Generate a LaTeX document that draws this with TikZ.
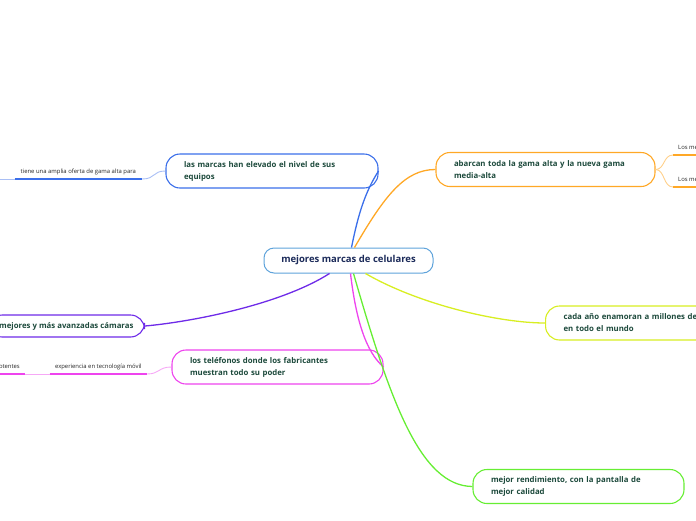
\documentclass[tikz,border=0pt]{standalone}
\usepackage{fontspec}
\setmainfont{Open Sans}
\usepackage{xcolor}
\usepackage{tikz}
\usetikzlibrary{calc}
\definecolor{hubBlue}{HTML}{5FA3DB}
\definecolor{hubText}{HTML}{1C2B5A}
\definecolor{topicText}{HTML}{1D4A3C}
\definecolor{royalBlue}{HTML}{3B6FEA}
\definecolor{paleBlue}{HTML}{A9BFF5}
\definecolor{mapOrange}{HTML}{FFA826}
\definecolor{paleOrange}{HTML}{FFD08A}
\definecolor{mapPurple}{HTML}{6E2BE8}
\definecolor{mapMagenta}{HTML}{EE44EE}
\definecolor{paleMagenta}{HTML}{F6A8F6}
\definecolor{mapLime}{HTML}{D8EE22}
\definecolor{mapGreen}{HTML}{66EE33}

\begin{document}
\begin{tikzpicture}[
            x=1pt, y=-1pt,
            hubbox/.style={
                draw=hubBlue,
                fill=white,
                line width=1pt,
                rounded corners=10pt,
                minimum width=169pt,
                minimum height=25pt,
                text=hubText,
                font=\fontsize{9.5}{11}\selectfont\bfseries
            },
            topicline/.style={
                draw,
                fill=white,
                line width=1.1pt,
                rounded corners=14pt,
                minimum height=34pt,
                inner xsep=18pt,
                inner ysep=0pt,
                align=left,
                text=topicText,
                font=\fontsize{7.8}{12}\selectfont\bfseries
            },
            topicbox/.style={
                topicline,
                text width=176pt
            },
            subtext/.style={
                inner xsep=5pt,
                inner ysep=3.5pt,
                text=black!85,
                font=\fontsize{5.9}{6.5}\selectfont
            },
            branch/.style={
                line width=1.3pt
            },
            twig/.style={
                line width=0.9pt
            },
            bar/.style={
                line width=2pt
            }
        ]

        \clip (0,0) rectangle (696,520);

        % --- Central topic ---
        \node[hubbox] (hub) at (348.5,260.5)
            {mejores marcas de celulares};

        % --- Main topics ---
        \node[topicbox, draw=royalBlue] (nivel) at (272,171)
            {las marcas han elevado el nivel de sus\\equipos};

        \node[topicbox, draw=mapOrange, text width=183pt]
            (gama) at (545.5,169.5)
            {abarcan toda la gama alta y la nueva gama\\media-alta};

        \node[topicline, draw=mapPurple, minimum height=22pt,
              inner xsep=11pt, anchor=east]
            (camaras) at (145,326)
            {mejores y más avanzadas cámaras};

        \node[topicbox, draw=mapMagenta, text width=175pt]
            (poder) at (277.5,367)
            {los teléfonos donde los fabricantes\\muestran todo su poder};

        \node[topicbox, draw=mapLime, anchor=west]
            (millones) at (545,323)
            {cada año enamoran a millones de\\en todo el mundo};

        \node[topicbox, draw=mapGreen, text width=175pt]
            (calidad) at (578.5,486.5)
            {mejor rendimiento, con la pantalla de\\mejor calidad};

        % --- Subtopics ---
        \node[subtext, minimum width=127pt, inner xsep=0pt, anchor=south east]
            (oferta) at (142,179)
            {tiene una amplia oferta de gama alta para};
        \coordinate (ofertaout) at (-5,179);

        \node[subtext, anchor=south west] (mejoresA) at (673,155)
            {Los mejores};
        \node[subtext, anchor=south west] (mejoresB) at (673,187)
            {Los mejores};

        \node[subtext, minimum width=97pt, inner xsep=0pt, anchor=south east]
            (experiencia) at (147,374)
            {experiencia en tecnología móvil};
        \node[subtext, anchor=south east] (potentes) at (25,374)
            {potentes};

        \draw[bar, royalBlue] (oferta.south west) -- (oferta.south east);
        \draw[bar, mapOrange] (mejoresA.south west) -- (mejoresA.south east);
        \draw[bar, mapOrange] (mejoresB.south west) -- (mejoresB.south east);
        \draw[bar, mapMagenta] (experiencia.south west) -- (experiencia.south east);
        \draw[bar, mapMagenta] (potentes.south west) -- (potentes.south east);

        % --- Branches from the hub ---
        \draw[branch, royalBlue] ($(hub.north)+(3,0)$)
            .. controls (358,215) and (365,192) .. (nivel.east);
        \draw[branch, mapOrange] ($(hub.north)+(6,0)$)
            .. controls (385,195) and (405,169.5) .. (gama.west);
        \draw[branch, mapPurple] ($(hub.south)+(-19,0)$)
            .. controls (280,305) and (190,322) .. (camaras.east);
        \draw[branch, mapMagenta] ($(hub.south)+(2,0)$)
            .. controls (356,320) and (366,352) .. (poder.east);
        \draw[branch, mapLime] ($(hub.south)+(17,0)$)
            .. controls (420,305) and (500,323) .. (millones.west);
        \draw[branch, mapGreen] ($(hub.south)+(5,0)$)
            .. controls (390,400) and (420,486) .. (calidad.west);

        % --- Twigs to subtopics ---
        \draw[twig, paleBlue] (nivel.west)
            .. controls (152,171) and (156,179) .. (oferta.south east);
        \draw[twig, paleBlue] (oferta.south west) -- (ofertaout);
        \draw[twig, paleOrange] (gama.east)
            .. controls (665,169.5) and (663,155) .. (mejoresA.south west);
        \draw[twig, paleOrange] (gama.east)
            .. controls (665,169.5) and (663,187) .. (mejoresB.south west);
        \draw[twig, paleMagenta] (poder.west)
            .. controls (158,367) and (160,374) .. (experiencia.south east);
        \draw[twig, paleMagenta] (experiencia.south west) -- (potentes.south east);

        \end{tikzpicture}
\end{document}
